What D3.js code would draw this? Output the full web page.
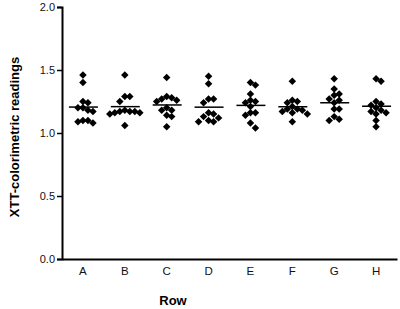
<!DOCTYPE html>
<html>
<head>
<meta charset="utf-8">
<script src="https://cdn.jsdelivr.net/npm/d3@7"></script>
<style>
  body { margin: 0; background: #fff; }
  svg { display: block; font-family: "Liberation Sans", Arial, sans-serif; }
</style>
</head>
<body>
<svg id="chart" width="400" height="309"></svg>
<script>
// one row of the plate per category, 12 wells each
const rows = ['A', 'B', 'C', 'D', 'E', 'F', 'G', 'H'];
const rowA = [1.46, 1.40, 1.25, 1.24, 1.20, 1.20, 1.18, 1.17, 1.10, 1.10, 1.09, 1.08];
const rowB = [1.46, 1.29, 1.29, 1.25, 1.18, 1.17, 1.17, 1.17, 1.16, 1.16, 1.15, 1.06];
const rowC = [1.44, 1.29, 1.28, 1.27, 1.26, 1.25, 1.20, 1.18, 1.18, 1.14, 1.13, 1.05];
const rowD = [1.45, 1.39, 1.27, 1.27, 1.24, 1.16, 1.15, 1.13, 1.12, 1.10, 1.09, 1.09];
const rowE = [1.40, 1.38, 1.31, 1.26, 1.25, 1.24, 1.21, 1.16, 1.16, 1.14, 1.08, 1.04];
const rowF = [1.41, 1.26, 1.25, 1.24, 1.21, 1.19, 1.19, 1.18, 1.17, 1.16, 1.15, 1.09];
const rowG = [1.43, 1.35, 1.31, 1.30, 1.27, 1.26, 1.24, 1.19, 1.19, 1.13, 1.11, 1.10];
const rowH = [1.43, 1.41, 1.25, 1.23, 1.22, 1.20, 1.18, 1.17, 1.16, 1.15, 1.10, 1.05];
const yTicks = [0, 0.5, 1.0, 1.5, 2.0];

const series = [rowA, rowB, rowC, rowD, rowE, rowF, rowG, rowH];

const svg = d3.select('#chart');

const x = d3.scaleBand()
  .domain(rows)
  .range([62, 397]);

const y = d3.scaleLinear()
  .domain([0, 2])
  .range([259, 7]);

// y axis
const yAxis = svg.append('g')
  .attr('transform', 'translate(62,0)')
  .call(d3.axisLeft(y)
    .tickValues(yTicks)
    .tickFormat(d3.format('.1f'))
    .tickSizeOuter(0)
    .tickSize(5)
    .tickPadding(2));
yAxis.select('.domain').attr('stroke-width', 2);
yAxis.selectAll('.tick line').attr('stroke-width', 1.5);
yAxis.selectAll('.tick text')
  .attr('font-size', 11)
  .attr('font-family', '"Liberation Sans", Arial, sans-serif')
  .attr('fill', '#111');

// x axis, no tick marks
const xAxis = svg.append('g')
  .attr('transform', 'translate(0,259)')
  .call(d3.axisBottom(x).tickSize(0).tickSizeOuter(0).tickPadding(8));
xAxis.select('.domain').attr('stroke-width', 2);
xAxis.selectAll('.tick text')
  .attr('font-size', 11.5)
  .attr('font-family', '"Liberation Sans", Arial, sans-serif')
  .attr('fill', '#111');

// titles
svg.append('text')
  .attr('transform', 'translate(19,137) rotate(-90)')
  .attr('text-anchor', 'middle')
  .attr('font-size', 13)
  .attr('font-weight', 'bold')
  .text('XTT-colorimetric readings');

svg.append('text')
  .attr('x', 173)
  .attr('y', 305)
  .attr('text-anchor', 'middle')
  .attr('font-size', 13)
  .attr('font-weight', 'bold')
  .text('Row');

// simple swarm: push points sideways until they stop overlapping
function swarm(vals) {
  const step = 5;
  const placed = [];
  vals.forEach(v => {
    const py = y(v);
    const offs = [0];
    for (let i = 1; i < 8; i++) offs.push(i * step, -i * step);
    let dx = 0;
    for (const o of offs) {
      const hit = placed.some(p => Math.abs(p.dx - o) < step * 0.9 && Math.abs(p.py - py) < 6);
      if (!hit) { dx = o; break; }
    }
    placed.push({ v: v, py: py, dx: dx });
  });
  return placed;
}

const diamond = d3.symbol().type(d3.symbolSquare).size(28);

const groups = svg.selectAll('.row')
  .data(series)
  .enter()
    .append('g')
    .attr('class', 'row')
    .attr('transform', (d, i) => 'translate(' + (x(rows[i]) + x.bandwidth() / 2) + ',0)');

groups.selectAll('path')
  .data(d => swarm(d))
  .enter()
    .append('path')
    .attr('d', diamond)
    .attr('transform', d => 'translate(' + d.dx + ',' + d.py + ') rotate(45)')
    .attr('fill', '#000');

// mean lines
groups.append('line')
  .attr('x1', -14)
  .attr('x2', 15)
  .attr('y1', d => y(d3.mean(d)))
  .attr('y2', d => y(d3.mean(d)))
  .attr('stroke', '#000')
  .attr('stroke-width', 1.5);
</script>
</body>
</html>
